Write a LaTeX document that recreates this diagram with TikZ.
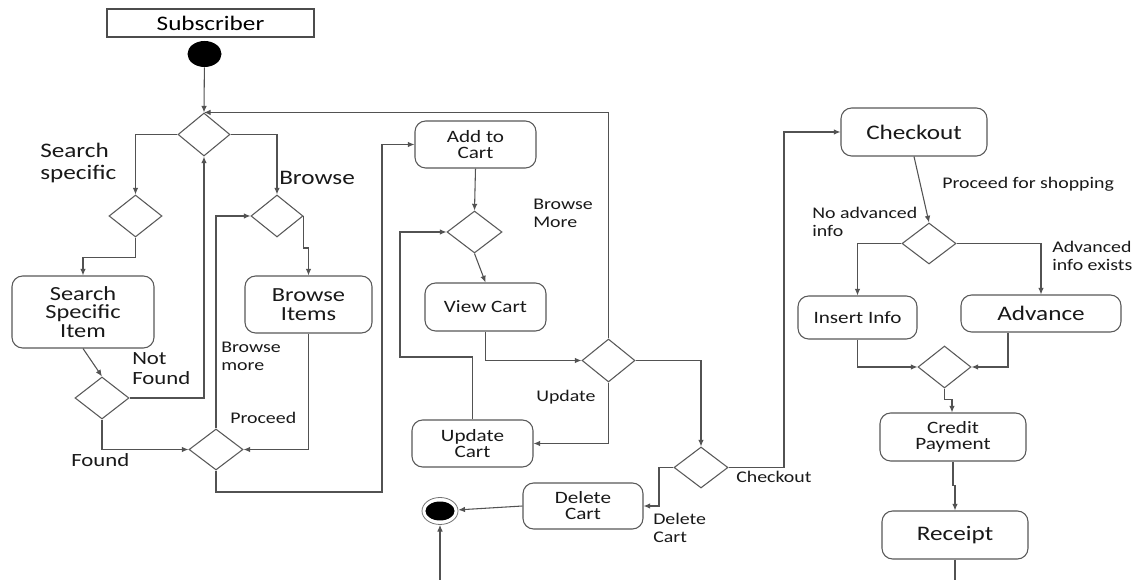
\documentclass[tikz,border=0pt]{standalone}
\usepackage{fontspec}
\setmainfont{Carlito}[FakeStretch=1.22]
\usetikzlibrary{shapes.geometric,arrows.meta,calc}

\begin{document}
\begin{tikzpicture}[x=0.75pt,y=-0.75pt,
  ln/.style={draw=black!68, line width=0.8pt},
  arr/.style={ln, -{Latex[length=5pt,width=4.2pt]}},
  sz/.style 2 args={minimum width=#1*0.75pt, minimum height=#2*0.75pt},
  act/.style={draw=black!65, line width=0.8pt, rounded corners=8pt, inner sep=0pt, align=center, text=black!90},
  dec/.style={diamond, draw=black!65, line width=0.8pt, inner sep=0pt},
  lbl/.style={anchor=north west, inner sep=0pt, align=left, text=black!90},
  big/.style={font=\fontsize{15.5}{16}\selectfont},
  mid/.style={font=\fontsize{13}{12}\selectfont},
  sml/.style={font=\fontsize{12.2}{13.5}\selectfont},
]
\fill[white] (0,0) rectangle (1139,580);
\useasboundingbox (0,0) rectangle (1139,580);

% swimlane title
\node[draw=black!70, line width=0.8pt, inner sep=0pt, sz={207}{28}, big] (sub) at (210.5,23) {Subscriber};

% initial and final states
\node[ellipse, fill=black, inner sep=0pt, sz={34}{26}] (start) at (204.5,54) {};
\node[ellipse, draw=black!55, line width=0.6pt, inner sep=0pt, sz={36}{27}] (end) at (440,511) {};
\fill[black] (end.center) ellipse [x radius=10.9pt, y radius=7.1pt];

% decisions
\node[dec, sz={52}{43}] (d1) at (204,134.5) {};
\node[dec, sz={53}{42}] (d2) at (135.5,216) {};
\node[dec, sz={52}{42}] (d3) at (277,216) {};
\node[dec, sz={54}{42}] (d4) at (102,398) {};
\node[dec, sz={54}{41}] (d5) at (216,449.5) {};
\node[dec, sz={55}{42}] (d6) at (474.5,232) {};
\node[dec, sz={53}{43}] (d7) at (608.5,360.5) {};
\node[dec, sz={54}{41}] (d8) at (701,467.5) {};
\node[dec, sz={54}{41}] (d9) at (929,243.5) {};
\node[dec, sz={53}{42}] (d10) at (944.5,367) {};

% activities
\node[act, sz={142}{72}, font=\fontsize{15}{13.9}\selectfont] (ssi) at (83,312) {Search\\Specific\\Item};
\node[act, sz={127}{57}, font=\fontsize{15}{14.3}\selectfont] (bi) at (308.5,304.5) {Browse\\Items};
\node[act, sz={121}{47}, mid] (atc) at (475.5,144.5) {Add to\\Cart};
\node[act, sz={121}{48}, mid] (vc) at (485.5,307) {View Cart};
\node[act, sz={121}{47}, mid] (uc) at (472.5,443.5) {Update\\Cart};
\node[act, sz={120}{46}, mid] (dc) at (583,506) {Delete\\Cart};
\node[act, sz={146}{48}, big] (co) at (914,132) {Checkout};
\node[act, sz={119}{43}, mid] (ii) at (857.5,317.5) {Insert Info};
\node[act, sz={160}{37}, big] (adv) at (1041,313.5) {Advance};
\node[act, sz={146}{48}, mid] (cp) at (953,437) {Credit\\Payment};
\node[act, sz={146}{48}, big] (rc) at (955,535) {Receipt};

% bend points and loose ends
\coordinate (c1) at (382,492);
\coordinate (c2) at (400,357);
\coordinate (c3) at (784,467.5);
\coordinate (c4) at (659,467.5);
\coordinate (c5) at (440,580);
\coordinate (c6) at (955,580);

% flows
\draw[arr] (start) -- (d1.north);
\draw[arr] (d7.north) |- (d1.north);
\draw[arr] (d1.west) -| (d2.north);
\draw[arr] (d1.east) -| (d3.north);
\draw[arr] (d2.south) -- ++(0,20) -| (ssi.north);
\draw[arr] (d3.east) -- ++(0,32) -| (bi.north);
\draw[arr] (ssi.south) -- (d4.north);
\draw[arr] (d4.east) -| (d1.south);
\draw[arr] (d4.south) |- (d5.west);
\draw[arr] (bi.south) |- (d5.east);
\draw[arr] (d5.north) |- (d3.west);
\draw[arr] (d5.south) |- (c1) |- (atc.west);
\draw[arr] (atc.south) -- (d6.north);
\draw[arr] (d6.south) -- (vc.north);
\draw[arr] (uc.north) |- (c2) |- (d6.west);
\draw[arr] (vc.south) |- (d7.west);
\draw[arr] (d7.south) |- (uc.east);
\draw[arr] (d7.east) -| (d8.north);
\draw[arr] (d8.east) -- (c3) |- (co.west);
\draw[arr] (d8.west) -- (c4) |- (dc.east);
\draw[arr] (dc.west) -- (end);
\draw[arr] (c5) -- (end.south);
\draw[arr] (co.south) -- (d9.north);
\draw[arr] (d9.west) -| (ii.north);
\draw[arr] (d9.east) -| (adv.north);
\draw[arr] (ii.south) |- (d10.west);
\draw[arr] ($(adv.south)+(-33,0)$) |- (d10.east);
\draw[arr] (d10.south) -- ++(0,11) -| ($(cp.north)+(-1,0)$);
\draw[arr] (cp.south) -- ++(0,24) -| (rc.north);
\draw[ln] (rc.south) -- (c6);

% guard labels
\node[lbl, font=\fontsize{15.5}{16.5}\selectfont] (lsearch) at (40,143) {Search\\specific};
\node[lbl, big] (lbrowse) at (279,171) {Browse};
\node[lbl, font=\fontsize{14}{15}\selectfont] (lnf) at (132,352) {Not\\Found};
\node[lbl, font=\fontsize{14}{15}\selectfont] (lfound) at (71,453) {Found};
\node[lbl, sml] (lproceed) at (230,412) {Proceed};
\node[lbl, sml] (lbm) at (221,342) {Browse\\more};
\node[lbl, sml] (lbm2) at (533,199) {Browse\\More};
\node[lbl, sml] (lupd) at (536,390) {Update};
\node[lbl, sml] (lco) at (736,471) {Checkout};
\node[lbl, sml] (ldel) at (653,513) {Delete\\Cart};
\node[lbl, sml] (lpfs) at (942,177) {Proceed for shopping};
\node[lbl, sml] (lnoadv) at (812,207) {No advanced\\info};
\node[lbl, sml] (ladv) at (1052,241) {Advanced\\info exists};
\end{tikzpicture}
\end{document}
